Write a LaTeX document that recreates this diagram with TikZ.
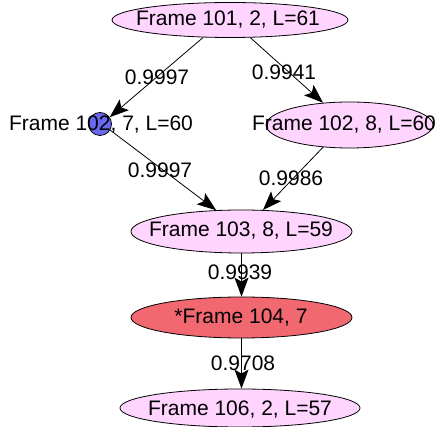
\documentclass[tikz,border=0pt]{standalone}
\usepackage{fontspec}
\setmainfont{Liberation Sans}
\usetikzlibrary{shapes.geometric,arrows.meta}
\definecolor{pinkfill}{RGB}{255,212,255}
\definecolor{redfill}{RGB}{242,104,112}
\definecolor{bluefill}{RGB}{104,104,240}
\tikzset{
  frame/.style={ellipse, draw=black, line width=0.8pt, fill=pinkfill, inner sep=0pt},
  hot/.style={ellipse, draw=black, line width=0.8pt, fill=redfill, inner sep=0pt},
  dot/.style={circle, draw=black, line width=0.8pt, fill=bluefill, inner sep=0pt, minimum size=23pt},
  txt/.style={inner sep=0pt, font=\fontsize{21}{25}\selectfont},
  wt/.style={inner sep=0pt, font=\fontsize{21}{25}\selectfont},
  edge/.style={draw=black, line width=0.8pt, -{Stealth[length=19pt,width=14pt,inset=4pt]}}
}
\begin{document}
\begin{tikzpicture}[x=1pt,y=-1pt]
\useasboundingbox (0,0) rectangle (440,427);
\node[frame, minimum width=236pt, minimum height=35pt] (A) at (230,20) {};
\node[txt] (At) at (228,20) {Frame 101, 2, L=61};
\node[dot] (B) at (100,124) {};
\node[txt] (Bt) at (101,125) {Frame 102, 7, L=60};
\node[frame, minimum width=167pt, minimum height=46pt] (C) at (349.5,125) {};
\node[txt] (Ct) at (344,125) {Frame 102, 8, L=60};
\node[frame, minimum width=221pt, minimum height=43pt] (D) at (241.5,231.5) {};
\node[txt] (Dt) at (241,231) {Frame 103, 8, L=59};
\node[hot, minimum width=221pt, minimum height=41pt] (E) at (241.5,317.5) {};
\node[txt] (Et) at (241,318) {*Frame 104, 7};
\node[frame, minimum width=240pt, minimum height=38pt] (F) at (240,408) {};
\node[txt] (Ft) at (240,410) {Frame 106, 2, L=57};

\draw[edge] (A.213) -- (B.35);
\draw[edge] (A.319) -- (C.140);
\draw[edge] (B.329) -- (D.140);
\draw[edge] (C.220) -- (D.45);
\draw[edge] (D.south) -- (E.north);
\draw[edge] (E.south) -- (E.south |- F.north);

\node[wt] (w1) at (157,77) {0.9997};
\node[wt] (w2) at (284,72) {0.9941};
\node[wt] (w3) at (160,170) {0.9997};
\node[wt] (w4) at (291,178) {0.9986};
\node[wt] (w5) at (240,272) {0.9939};
\node[wt] (w6) at (243,363) {0.9708};
\end{tikzpicture}
\end{document}
